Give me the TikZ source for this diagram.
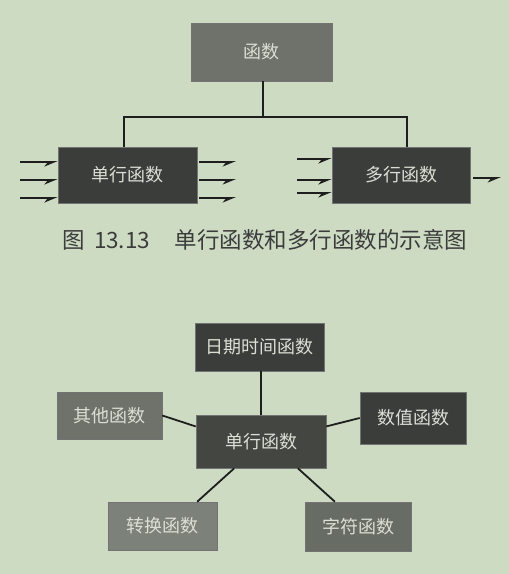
\documentclass[tikz,border=0pt]{standalone}
\usepackage{fontspec}
\setmainfont{Noto Sans CJK SC}
\newfontfamily\cjk{Noto Sans CJK SC}
\usetikzlibrary{arrows.meta}
\definecolor{bgc}{HTML}{CDDBC3}
\definecolor{boxmid}{HTML}{6E726B}
\definecolor{boxdark}{HTML}{3B3D3A}
\definecolor{boxdarkb}{HTML}{444741}
\definecolor{boxlight}{HTML}{7C8279}
\definecolor{boxmidb}{HTML}{676C64}
\definecolor{txtc}{HTML}{DCDFD5}
\definecolor{capc}{HTML}{3C3C3C}
\definecolor{linec}{HTML}{1E1E1E}
\tikzset{
  fbox/.style={draw=black!55, line width=0.6pt, text=txtc, font=\cjk\fontsize{18}{20}\selectfont, inner sep=0pt},
  conn/.style={draw=linec, line width=1.8pt},
  harrow/.style={draw=linec, line width=2.2pt, -{Stealth[length=11pt,width=9pt,harpoon,swap,fill=gray!60]}},
}
\begin{document}
\begin{tikzpicture}[x=1pt,y=-1pt]
\fill[bgc] (0,0) rectangle (509,574);
\useasboundingbox (0,0) rectangle (509,574);
% top diagram
\node[fbox, fill=boxmid, minimum width=141pt, minimum height=58pt] (fn) at (261.5,52) {函数};
\node[fbox, fill=boxdark, minimum width=139pt, minimum height=56pt] (sr) at (127.5,175) {单行函数};
\node[fbox, fill=boxdark, minimum width=138pt, minimum height=56pt] (mr) at (401,175) {多行函数};
\coordinate (j) at (263,117);
\coordinate (jl) at (124,117);
\coordinate (jr) at (407,117);
\draw[conn] (fn.south -| j) -- (j);
\draw[conn] (jl |- sr.north) -- (jl) -- (jr) -- (jr |- mr.north);
% arrows single-row
\foreach \i/\y in {1/162,2/180,3/198}{
  \coordinate (a\i) at (20,\y);
  \draw[harrow] (a\i) -- (a\i -| sr.west);
  \coordinate (b\i) at (199,\y);
  \coordinate (c\i) at (236,\y);
  \draw[harrow] (b\i) -- (c\i);
}
\foreach \i/\y in {1/159,2/180,3/193}{
  \coordinate (d\i) at (297,\y);
  \draw[harrow] (d\i) -- (d\i -| mr.west);
}
\coordinate (e1) at (473,178);
\coordinate (e2) at (501,178);
\draw[harrow] (e1) -- (e2);
% caption
\node[text=capc, font=\cjk\fontsize{22.5}{25}\selectfont, inner sep=0pt] (cap) at (265,240) {图\hspace{0.4em}13.13\hspace{1.1em}单行函数和多行函数的示意图};
% bottom diagram
\node[fbox, fill=boxdark, minimum width=129pt, minimum height=48pt] (date) at (259.5,347) {日期时间函数};
\node[fbox, fill=boxmid, minimum width=105pt, minimum height=47pt] (other) at (109.5,415.5) {其他函数};
\node[fbox, fill=boxdarkb, minimum width=130pt, minimum height=53pt] (ctr) at (261,441.5) {单行函数};
\node[fbox, fill=boxdark, minimum width=106pt, minimum height=52pt] (num) at (413,418) {数值函数};
\node[fbox, fill=boxlight, minimum width=109pt, minimum height=48pt] (conv) at (162.5,526) {转换函数};
\node[fbox, fill=boxmidb, minimum width=106pt, minimum height=49pt] (chr) at (358,526.5) {字符函数};
\draw[conn] (date.south -| ctr.north) -- (ctr.north);
\draw[conn] (other.east) -- (ctr.167);
\draw[conn] (ctr.13) -- (num.west);
\draw[conn] (ctr.225) -- (conv.35);
\draw[conn] (ctr.-36) -- (chr.133);
\end{tikzpicture}
\end{document}
